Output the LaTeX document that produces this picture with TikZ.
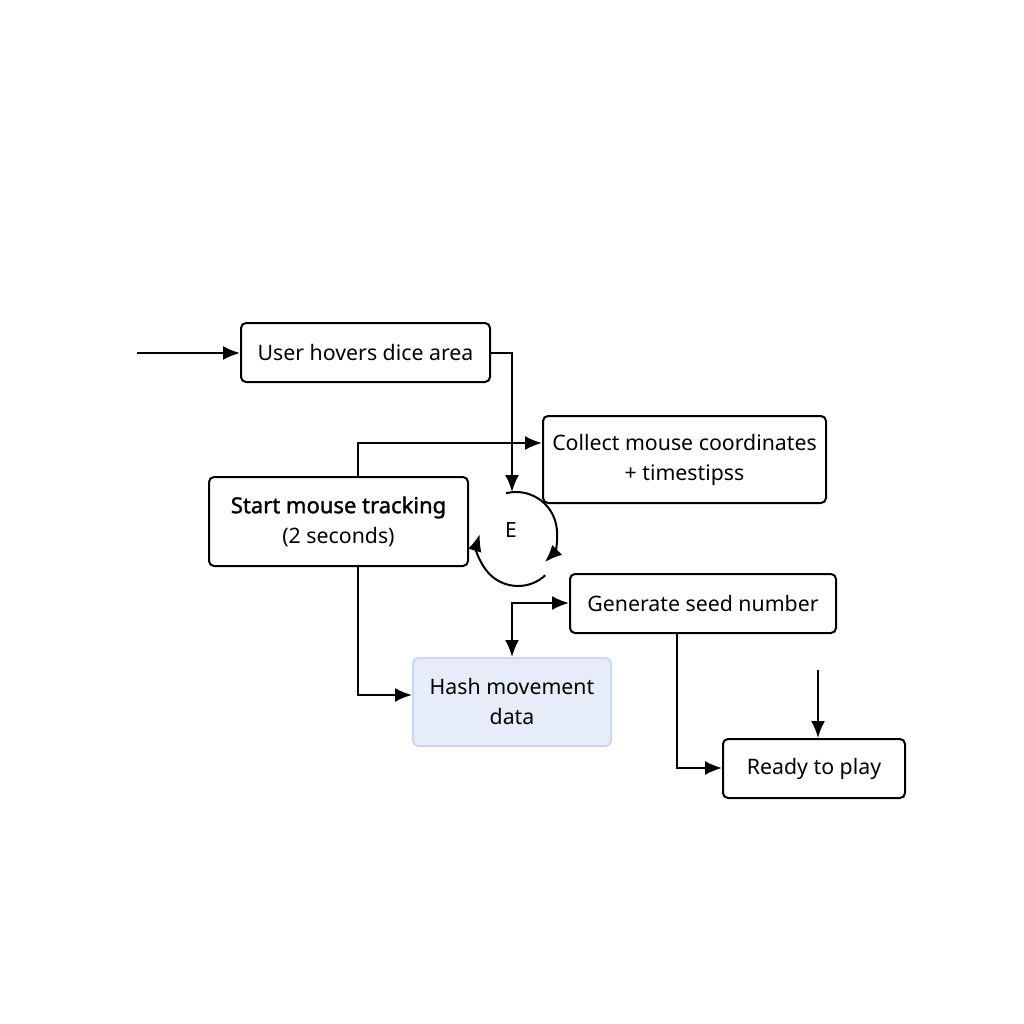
\documentclass[tikz,border=0pt]{standalone}
\usepackage{fontspec}
\setmainfont{Noto Sans}
\newfontfamily\medfont{Noto Sans}[FakeBold=1.4]
\usetikzlibrary{arrows.meta}
\definecolor{hashfill}{HTML}{E6ECF8}
\definecolor{hashdraw}{HTML}{C9D9F2}
\tikzset{
  box/.style={draw=black, line width=2pt, rounded corners=5pt, align=center, font=\fontsize{21.3}{30}\selectfont, inner sep=0pt},
  conn/.style={line width=2pt, -{Latex[length=17pt,width=14pt]}},
  both/.style={line width=2pt, {Latex[length=17pt,width=14pt]}-{Latex[length=17pt,width=14pt]}},
}
\begin{document}
\begin{tikzpicture}[x=1pt,y=-1pt]
\useasboundingbox[fill=white] (0,0) rectangle (1024,1024);
\node[box, minimum width=249pt, minimum height=59pt] (hover) at (365.5,352.5) {User hovers dice area};
\node[box, minimum width=283pt, minimum height=87pt] (collect) at (684.5,459.5) {Collect mouse coordinates\\+ timestipss};
\node[box, minimum width=259pt, minimum height=89pt] (start) at (338.5,521.5) {{\medfont\fontsize{22}{30}\selectfont Start mouse tracking}\\(2 seconds)};
\node[box, minimum width=266pt, minimum height=59pt] (gen) at (703,603.5) {Generate seed number};
\node[box, draw=hashdraw, fill=hashfill, minimum width=198pt, minimum height=88pt] (hash) at (512,702) {Hash movement\\data};
\node[box, minimum width=182pt, minimum height=59pt] (ready) at (814,768.5) {Ready to play};
\node[font=\fontsize{21}{25}\selectfont] (E) at (511,530) {E};
\coordinate (in1) at (137,353);
\coordinate (in2) at (818,670);
\coordinate (loopin) at (512,492);
\coordinate (lc) at (516,533);
\coordinate (lc2) at (518,546);
\draw[conn] (in1) -- (hover.west |- in1);
\draw[conn] (hover.east |- in1) -- (512,353) -- (loopin);
\draw[conn] (start.north -| 358,0) -- (358,443) -- (collect.west |- 0,443);
\draw[conn] (start.south -| 358,0) -- (358,695) -- (hash.west |- 0,695);
\draw[both] (hash.north) -- (512,603) -- (gen.west |- 0,603);
\draw[conn] (gen.south -| 677,0) -- (677,768) -- (ready.west |- 0,768);
\draw[conn] (in2) -- (ready.north -| in2);
% circular arrows around E
\draw[conn] (lc) ++(-104:41) arc[start angle=-104, end angle=45, radius=41];
\draw[conn] (lc2) ++(47:40) arc[start angle=47, end angle=197, radius=40];
\end{tikzpicture}
\end{document}
